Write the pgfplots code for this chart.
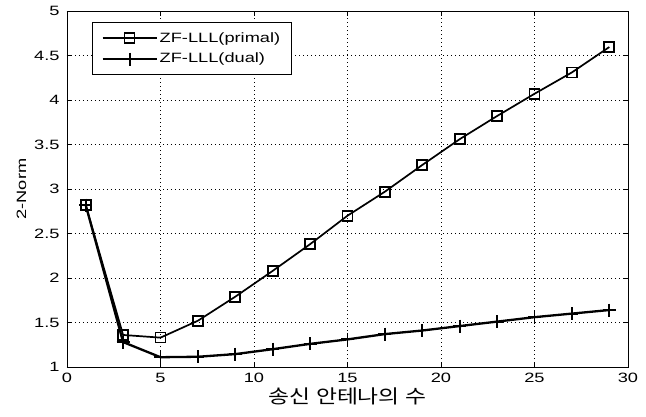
\documentclass[border=0pt]{standalone}
\usepackage{pgfplots}
\pgfplotsset{compat=1.18}
\usepackage{fontspec}
\setmainfont[FakeStretch=1.35]{Liberation Sans}
\newfontfamily\kr[FakeStretch=1.2]{Noto Sans CJK KR}
\begin{document}
\fontsize{13bp}{15bp}\selectfont
\begin{tikzpicture}
\begin{axis}[
  scale only axis,
  width=561bp, height=356bp,
  xmin=0, xmax=30, ymin=1, ymax=5,
  xtick={0,5,...,30},
  ytick={1,1.5,...,5},
  /pgf/number format/assume math mode=true,
  tick label style={font=\fontsize{13.5bp}{15bp}\selectfont},
  tick align=inside,
  major tick length=5bp,
  tick style={black, line width=0.6bp},
  axis line style={black, line width=0.8bp},
  grid=major,
  major grid style={black, line width=0.7bp, dash pattern=on 0.8bp off 3.2bp},
  xticklabel style={yshift=-2bp},
  yticklabel style={xshift=-3bp},
  xlabel={\kr\fontsize{19bp}{22bp}\selectfont 송신 안테나의 수},
  ylabel={2-Norm},
  xlabel style={yshift=4bp},
  ylabel style={font=\fontsize{13.5bp}{16bp}\selectfont, yshift=-1bp},
  legend cell align=left,
  legend style={at={(rel axis cs:0.0446,0.969)}, anchor=north west,
    draw=black, line width=0.8bp, inner xsep=9bp, inner ysep=8bp,
    row sep=5bp,
    font=\fontsize{13.5bp}{15bp}\selectfont},
  legend image code/.code={\draw[mark repeat=2,mark phase=2,#1] plot coordinates {(0bp,0bp)(27bp,0bp)(54bp,0bp)};},
]
\addplot[black, line width=1.7bp, mark=square, mark size=5bp, mark options={solid, line width=1.7bp}]
coordinates {(1,2.82)(3,1.36)(5,1.33)(7,1.52)(9,1.79)(11,2.08)(13,2.38)(15,2.70)(17,2.97)(19,3.27)(21,3.56)(23,3.82)(25,4.07)(27,4.31)(29,4.595)};
\addlegendentry{ZF-LLL(primal)}
\addplot[black, line width=2.3bp, mark=+, mark size=6.5bp, mark options={solid, line width=1.9bp}]
coordinates {(1,2.82)(3,1.28)(5,1.11)(7,1.115)(9,1.145)(11,1.20)(13,1.26)(15,1.31)(17,1.37)(19,1.41)(21,1.46)(23,1.51)(25,1.56)(27,1.60)(29,1.64)};
\addlegendentry{ZF-LLL(dual)}
\end{axis}
\pgfresetboundingbox
\useasboundingbox ([xshift=-67bp,yshift=-50bp]current axis.south west) rectangle ([xshift=18bp,yshift=11bp]current axis.north east);
\end{tikzpicture}
\end{document}
